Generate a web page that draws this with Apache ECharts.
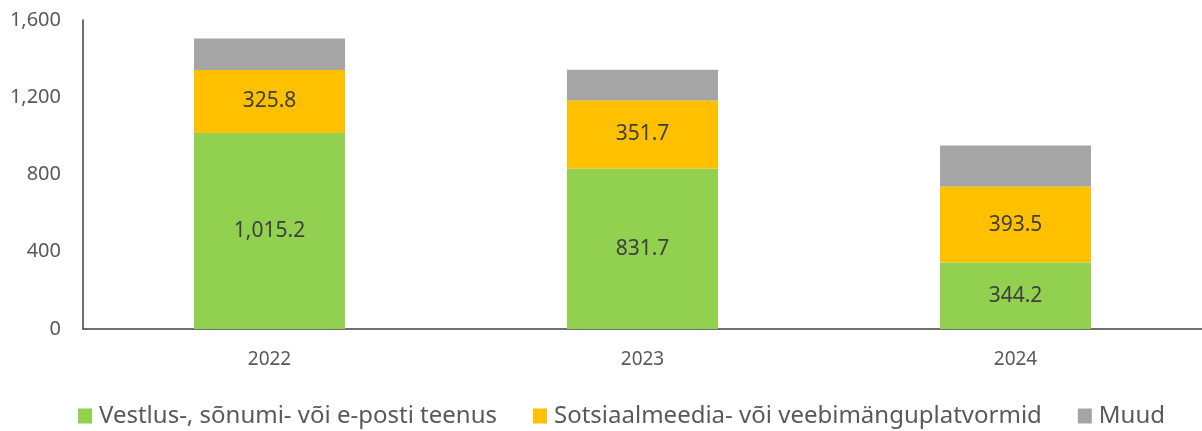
<!DOCTYPE html>
<html><head><meta charset="utf-8">
<script src="https://cdn.jsdelivr.net/npm/echarts@6/dist/echarts.min.js"></script>
<style>html,body{margin:0;padding:0;background:#fff}#c{width:1202px;height:431px}</style>
</head><body><div id="c"></div>
<script>
const categories = ['2022', '2023', '2024'];
const seriesNames = ['Vestlus-, sõnumi- või e-posti teenus', 'Sotsiaalmeedia- või veebimänguplatvormid', 'Muud'];
const vestlus = [1015.2, 831.7, 344.2];
const sotsiaal = [325.8, 351.7, 393.5];
const muud = [163, 159, 212];
const yTicks = [0, 400, 800, 1200, 1600];

const FONT = '"Noto Sans", sans-serif';
const fmt = v => v.toLocaleString('en-US', {minimumFractionDigits: 1, maximumFractionDigits: 1});
const chart = echarts.init(document.getElementById('c'), null, {renderer: 'canvas'});
const lbl = {show: true, position: 'inside', color: '#404040', fontSize: 21, fontFamily: FONT,
  formatter: p => fmt(p.value)};
chart.setOption({
  animation: false,
  grid: {left: 83, right: 0, top: 20, bottom: 102, containLabel: false},
  legend: {
    bottom: -2, left: 73, itemWidth: 14, itemHeight: 15, itemGap: 36, icon: 'rect',
    textStyle: {color: '#595959', fontSize: 24, fontFamily: FONT, padding: [0, 0, 0, 2]},
    data: seriesNames
  },
  xAxis: {
    type: 'category', data: categories,
    axisLine: {lineStyle: {color: '#404040', width: 1.5}},
    axisTick: {show: false},
    axisLabel: {color: '#595959', fontSize: 19, fontFamily: FONT, margin: 21}
  },
  yAxis: {
    type: 'value', min: yTicks[0], max: yTicks[yTicks.length - 1], interval: 400,
    axisLine: {show: true, lineStyle: {color: '#404040', width: 1.5}},
    axisTick: {show: false},
    splitLine: {show: false},
    axisLabel: {color: '#595959', fontSize: 20, fontFamily: FONT, margin: 22,
      formatter: v => v.toLocaleString('en-US')}
  },
  series: [
    {name: seriesNames[0], type: 'bar', stack: 't', data: vestlus, barWidth: '40.5%',
      itemStyle: {color: '#92D050'}, label: lbl},
    {name: seriesNames[1], type: 'bar', stack: 't', data: sotsiaal,
      itemStyle: {color: '#FFC000'}, label: lbl},
    {name: seriesNames[2], type: 'bar', stack: 't', data: muud,
      itemStyle: {color: '#A5A5A5'}, label: {show: false}}
  ]
});
</script></body></html>
